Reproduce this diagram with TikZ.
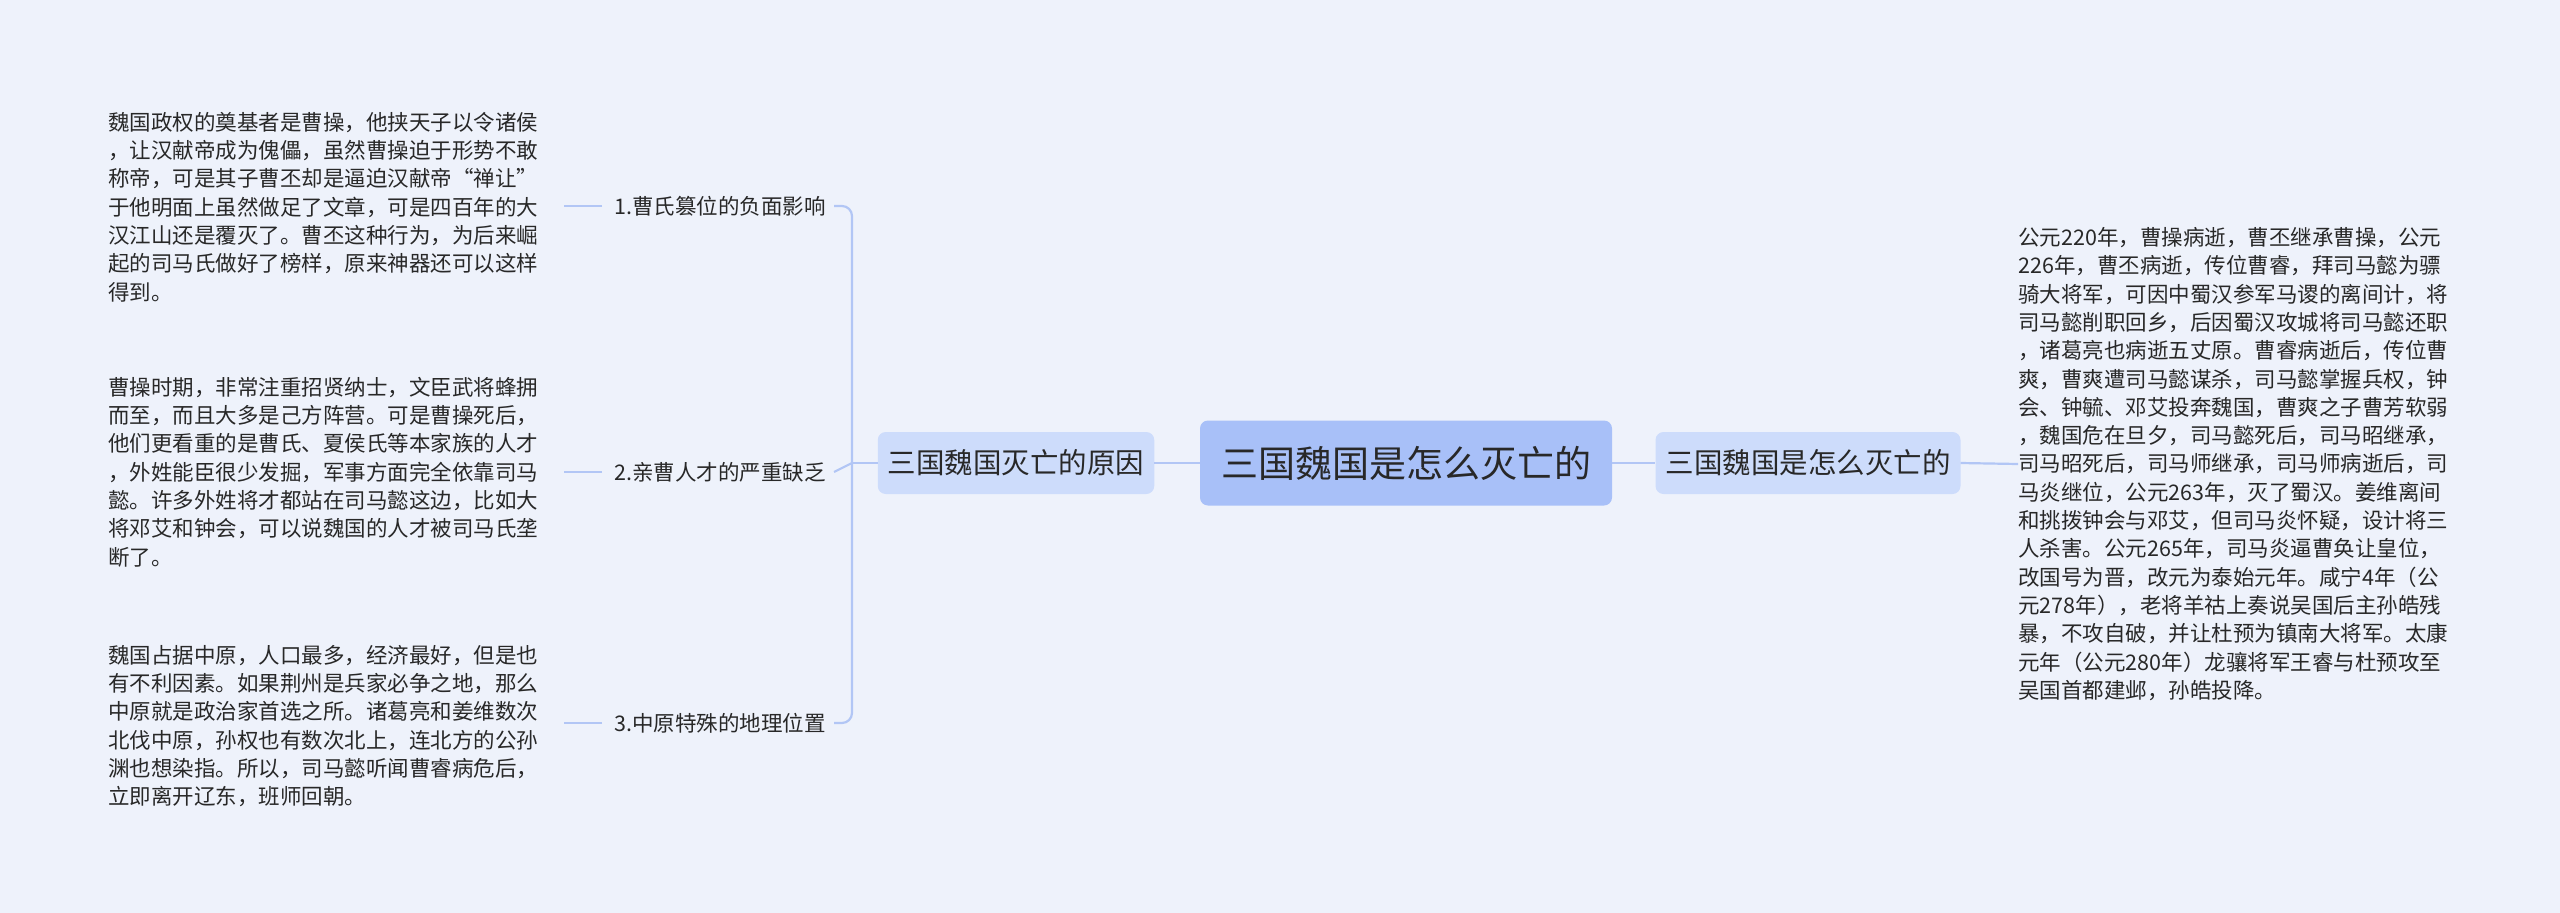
\documentclass[tikz,border=0pt]{standalone}
\usepackage{fontspec}
\setmainfont{Noto Sans CJK SC}
\usetikzlibrary{positioning}
\definecolor{bgcol}{RGB}{238,242,251}
\definecolor{linecol}{RGB}{178,198,245}
\definecolor{rootcol}{RGB}{168,192,248}
\definecolor{subcol}{RGB}{205,220,251}
\definecolor{txtcol}{RGB}{40,40,40}
\tikzset{
  rootbox/.style={fill=rootcol,rounded corners=8pt,minimum width=412pt,minimum height=85pt,font=\fontsize{37pt}{40pt}\selectfont,text=txtcol},
  subbox/.style={fill=subcol,rounded corners=8pt,minimum height=62pt,inner xsep=10pt,font=\fontsize{28.5pt}{32pt}\selectfont,text=txtcol},
  leaf/.style={inner sep=0pt,font=\fontsize{21.5pt}{24pt}\selectfont,text=txtcol},
  note/.style={inner sep=0pt,align=left,font=\fontsize{21.5pt}{28.3pt}\selectfont,text=txtcol},
  link/.style={draw=linecol,line width=2.2pt}
}
\begin{document}
\begin{tikzpicture}[x=1pt,y=-1pt]
	\fill[bgcol] (0,0) rectangle (2560,913);
	\useasboundingbox (0,0) rectangle (2560,913);
	
	% main nodes
	\node[rootbox] (root) at (1406,463) {三国魏国是怎么灭亡的};
	\node[subbox] (why) at (1016,463) {三国魏国灭亡的原因};
	\node[subbox] (how) at (1808,463) {三国魏国是怎么灭亡的};
	
	% reasons
	\node[leaf,anchor=east] (r1) at (826,206) {1.曹氏篡位的负面影响};
	\node[leaf,anchor=east] (r2) at (826,472) {2.亲曹人才的严重缺乏};
	\node[leaf,anchor=east] (r3) at (826,723) {3.中原特殊的地理位置};
	
	% Text Node
	\node[note,anchor=west] (t1) at (108,207) {魏国政权的奠基者是曹操，他挟天子以令诸侯\\，让汉献帝成为傀儡，虽然曹操迫于形势不敢\\称帝，可是其子曹丕却是逼迫汉献帝“禅让”\\于他明面上虽然做足了文章，可是四百年的大\\汉江山还是覆灭了。曹丕这种行为，为后来崛\\起的司马氏做好了榜样，原来神器还可以这样\\得到。};
	\node[note,anchor=west] (t2) at (108,472) {曹操时期，非常注重招贤纳士，文臣武将蜂拥\\而至，而且大多是己方阵营。可是曹操死后，\\他们更看重的是曹氏、夏侯氏等本家族的人才\\，外姓能臣很少发掘，军事方面完全依靠司马\\懿。许多外姓将才都站在司马懿这边，比如大\\将邓艾和钟会，可以说魏国的人才被司马氏垄\\断了。};
	\node[note,anchor=west] (t3) at (108,726) {魏国占据中原，人口最多，经济最好，但是也\\有不利因素。如果荆州是兵家必争之地，那么\\中原就是政治家首选之所。诸葛亮和姜维数次\\北伐中原，孙权也有数次北上，连北方的公孙\\渊也想染指。所以，司马懿听闻曹睿病危后，\\立即离开辽东，班师回朝。};
	\node[note,anchor=west] (t4) at (2018,464) {公元220年，曹操病逝，曹丕继承曹操，公元\\226年，曹丕病逝，传位曹睿，拜司马懿为骠\\骑大将军，可因中蜀汉参军马谡的离间计，将\\司马懿削职回乡，后因蜀汉攻城将司马懿还职\\，诸葛亮也病逝五丈原。曹睿病逝后，传位曹\\爽，曹爽遭司马懿谋杀，司马懿掌握兵权，钟\\会、钟毓、邓艾投奔魏国，曹爽之子曹芳软弱\\，魏国危在旦夕，司马懿死后，司马昭继承，\\司马昭死后，司马师继承，司马师病逝后，司\\马炎继位，公元263年，灭了蜀汉。姜维离间\\和挑拨钟会与邓艾，但司马炎怀疑，设计将三\\人杀害。公元265年，司马炎逼曹奂让皇位，\\改国号为晋，改元为泰始元年。咸宁4年（公\\元278年），老将羊祜上奏说吴国后主孙皓残\\暴，不攻自破，并让杜预为镇南大将军。太康\\元年（公元280年）龙骧将军王睿与杜预攻至\\吴国首都建邺，孙皓投降。};
	
	% connectors
	\draw[link] (root.west) -- (why.east);
	\draw[link] (root.east) -- (how.west);
	\draw[link] (how.east) -- (t4.west);
	\coordinate (fork) at (852,463);
	\draw[link] (why.west) -- (fork);
	\draw[link,rounded corners=10pt] (r1.east) ++(8,0) -- (852,206) -- (852,723) -- ([xshift=8pt]r3.east);
	\draw[link] ([xshift=8pt]r2.east) -- (fork);
	\draw[link] (r1.west) ++(-12,0) -- ++(-38,0);
	\draw[link] (r2.west) ++(-12,0) -- ++(-38,0);
	\draw[link] (r3.west) ++(-12,0) -- ++(-38,0);
\end{tikzpicture}
\end{document}
